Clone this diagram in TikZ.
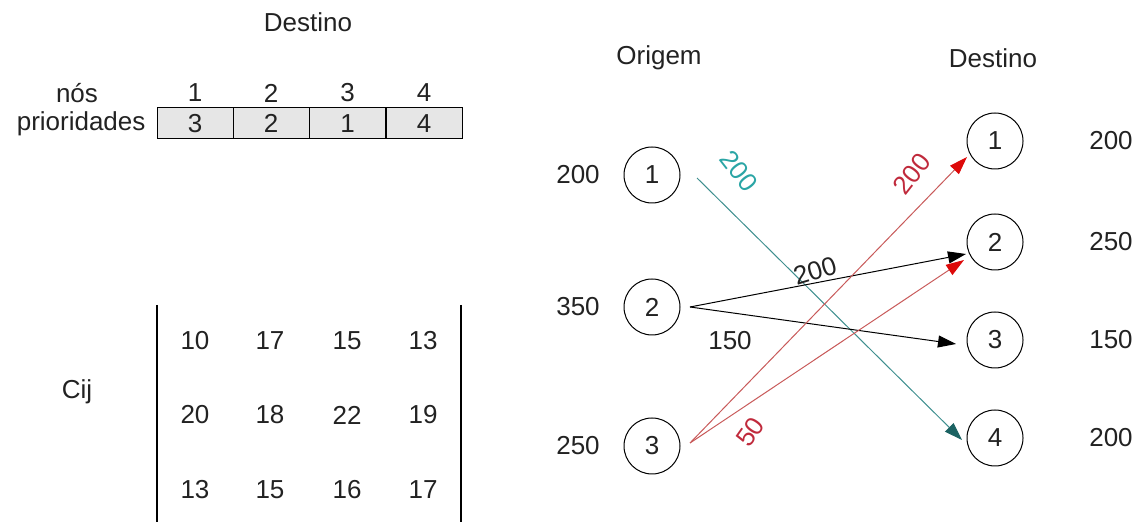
\documentclass[tikz,border=0pt]{standalone}
\usepackage{fontspec}
\setmainfont{Liberation Sans}
\usepackage{xcolor}
\usetikzlibrary{positioning, arrows.meta}

\definecolor{cellgray}{HTML}{E6E6E6}
\definecolor{tealline}{HTML}{3F8F8F}
\definecolor{tealhead}{HTML}{1B6262}
\definecolor{tealtext}{HTML}{2AA5A5}
\definecolor{redline}{HTML}{C85A5A}
\definecolor{redhead}{HTML}{DD0A0A}
\definecolor{redtext}{HTML}{C02A3C}
\definecolor{ink}{HTML}{222222}

\begin{document}
\begin{tikzpicture}[
    x=0.5pt, y=-0.5pt,
    font=\fontsize{13}{15}\selectfont, text=ink,
    vertex/.style = {draw, circle, minimum size=28pt, inner sep=0pt, line width=0.5pt},
    cell/.style = {draw, fill=cellgray, minimum width=38pt, minimum height=15.5pt, inner sep=0pt, line width=0.5pt},
    flowlbl/.style = {inner sep=0pt},
    flow/.style = {-{Triangle[length=9pt, width=6pt]}, line width=0.5pt},
    tealflow/.style = {draw=tealline, -{Triangle[length=9pt, width=6pt, color=tealhead]}, line width=0.5pt},
    redflow/.style = {draw=redline, -{Triangle[length=9pt, width=6pt, color=redhead]}, line width=0.5pt}
]
    \useasboundingbox (0,0) rectangle (1140,522);

    % tabela de prioridades
    \node (tdest) at (308,22) {Destino};
    \node (nos) at (77,93) {nós};
    \foreach \n/\p/\x in {1/3/195, 2/2/271, 3/1/347.5, 4/4/424} {
        \node[cell] (p\n) at (\x,123.5) {\p};
        \node (n\n) at (\x,93) {\n};
    }
    \node[left=2pt of p1] (prio) {prioridades};

    % matriz de custos
    \node (cij) at (77,392) {Cij};
    \draw[line width=0.75pt] (157,305) -- (157,522);
    \draw[line width=0.75pt] (461,305) -- (461,522);
    \foreach \r/\y/\a/\b/\c/\d in {1/341/10/17/15/13, 2/415/20/18/22/19, 3/490/13/15/16/17} {
        \node (c\r1) at (195,\y) {\a};
        \node (c\r2) at (270,\y) {\b};
        \node (c\r3) at (347,\y) {\c};
        \node (c\r4) at (423,\y) {\d};
    }

    % rede de transporte
    \node (orig) at (659,58) {Origem};
    \node (dest) at (993,58) {Destino};
    \foreach \i/\y/\s in {1/175/200, 2/307/350, 3/446/250} {
        \node[vertex] (o\i) at (652,\y) {\i};
        \node (s\i) at (578,\y) {\s};
    }
    \foreach \j/\y/\q in {1/141/200, 2/242/250, 3/340/150, 4/438/200} {
        \node[vertex] (d\j) at (995,\y) {\j};
        \node (q\j) at (1111,\y) {\q};
    }

    \coordinate (o1out) at (697,178);
    \coordinate (o2out) at (690,307);
    \coordinate (o3out) at (690,443);
    \coordinate (d1in) at (967,157);
    \coordinate (d2in) at (966,254);
    \coordinate (d2inr) at (964,260);
    \coordinate (d3in) at (956,344);
    \coordinate (d4in) at (962,440);

    \draw[tealflow] (o1out) -- (d4in);
    \draw[flow] (o2out) -- (d2in);
    \draw[flow] (o2out) -- (d3in);
    \draw[redflow] (o3out) -- (d1in);
    \draw[redflow] (o3out) -- (d2inr);

    \node[flowlbl, text=tealtext, rotate=-52] (f14) at (739,171) {200};
    \node[flowlbl, rotate=17] (f22) at (815,271) {200};
    \node[flowlbl] (f23) at (730,341) {150};
    \node[flowlbl, text=redtext, rotate=52] (f31) at (912,174) {200};
    \node[flowlbl, text=redtext, rotate=55] (f32) at (750,432) {50};
\end{tikzpicture}
\end{document}
